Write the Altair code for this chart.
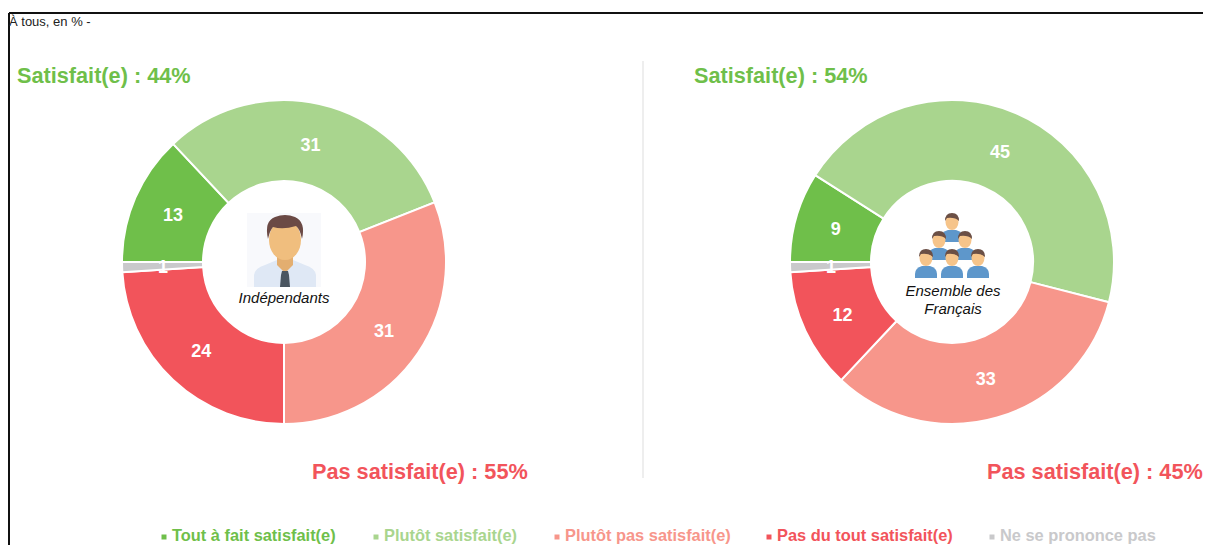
import base64
import math
import altair as alt
import pandas as pd

# ---- data ----
categories = ["Tout à fait satisfait(e)", "Plutôt satisfait(e)", "Plutôt pas satisfait(e)",
              "Pas du tout satisfait(e)", "Ne se prononce pas"]
colors = ["#6FBF4A", "#A9D58E", "#F7968B", "#F2545B", "#C9C9CB"]
independants = [13, 31, 31, 24, 1]
francais = [9, 45, 33, 12, 1]
top_titles = ["Satisfait(e) : 44%", "Satisfait(e) : 54%"]
bottom_titles = ["Pas satisfait(e) : 55%", "Pas satisfait(e) : 45%"]
header = "À tous, en % -"

FONT = "Liberation Sans"
OX, OY = 8, 8  # page margin


def px(v):
    return alt.value(v - OX)


def py(v):
    return alt.value(v - OY)


def svg_uri(svg):
    return "data:image/svg+xml;base64," + base64.b64encode(svg.encode("utf-8")).decode("ascii")


man_svg = """<svg xmlns='http://www.w3.org/2000/svg' width='74' height='74' viewBox='0 0 74 74'>
<rect width='74' height='74' fill='#F8F9FC'/>
<path d='M7 74 V62 Q8 55 18 52 L30 47 H46 L58 52 Q68 55 69 62 V74 Z' fill='#DFE8F5'/>
<path d='M30 40 H46 V52 L38 60 L30 52 Z' fill='#E3AE70'/>
<path d='M35 58 H41 L42 62 L43 74 H33 L34 62 Z' fill='#4A5560'/>
<ellipse cx='38' cy='27' rx='16' ry='20' fill='#F0BE7E'/>
<path d='M21 26 Q17 8 28 4 Q38 0 48 4 Q59 9 55 26 Q53 16 49 13 Q36 17 26 14 Q23 17 21 26 Z' fill='#6B4A45'/>
</svg>"""


def person(cx, cy):
    return (f"<path d='M{cx-11} {cy+20} V{cy+16} Q{cx-11} {cy+10} {cx-4} {cy+8} H{cx+4} Q{cx+11} {cy+10} {cx+11} {cy+16} V{cy+20} Z' fill='#5E97CB'/>"
            f"<ellipse cx='{cx}' cy='{cy}' rx='6.5' ry='8' fill='#F6C48A'/>"
            f"<path d='M{cx-7} {cy-1} Q{cx-7} {cy-9} {cx} {cy-9} Q{cx+7} {cy-9} {cx+7} {cy-1} Q{cx+3} {cy-5} {cx-5} {cy-4} Z' fill='#6B4F45'/>")


people_svg = ("<svg xmlns='http://www.w3.org/2000/svg' width='74' height='70' viewBox='0 0 74 70'>"
              + person(37, 12) + person(24, 30) + person(50, 30)
              + person(11, 48) + person(37, 48) + person(63, 48) + "</svg>")

# ---- layout ----
panels = [
    dict(values=independants, cx=284, top_x=17, bottom_x=312),
    dict(values=francais, cx=952, top_x=694, bottom_x=987),
]
CY = 262
R_OUT, R_IN, R_LABEL = 162, 81, 121

color_scale = alt.Scale(domain=categories, range=colors)
theta_scale = alt.Scale(domain=[0, 100], range=[-math.pi / 2, 3 * math.pi / 2])

one = pd.DataFrame({"a": [0]})
layers = []


def text_layer(txt, x, y, **kw):
    return (alt.Chart(pd.DataFrame({"t": [txt]}))
            .mark_text(font=FONT, baseline="alphabetic", **kw)
            .encode(text="t:N", x=px(x), y=py(y)))


# frame & separator
layers.append(alt.Chart(one).mark_rule(color="#111111", strokeWidth=2)
              .encode(x=px(9), x2=px(1203), y=py(13)))
layers.append(alt.Chart(one).mark_rule(color="#111111", strokeWidth=2)
              .encode(x=px(9), y=py(13), y2=py(545)))
layers.append(alt.Chart(one).mark_rule(color="#DDDDDD", strokeWidth=1)
              .encode(x=px(643), y=py(61), y2=py(478)))

layers.append(text_layer(header, 9, 26, fontSize=13, align="left", color="#222222"))

for i, p in enumerate(panels):
    df = pd.DataFrame({"cat": categories, "val": p["values"], "ord": range(5)})
    base = alt.Chart(df)
    layers.append(
        base.mark_arc(innerRadius=R_IN, outerRadius=R_OUT, stroke="white", strokeWidth=2).encode(
            theta=alt.Theta("val:Q", stack=True, scale=theta_scale),
            color=alt.Color("cat:N", scale=color_scale, legend=None),
            order=alt.Order("ord:Q"),
            x=px(p["cx"]), y=py(CY),
        )
    )
    layers.append(
        base.mark_text(radius=R_LABEL, dy=2, font=FONT, fontSize=18, fontWeight="bold", color="white").encode(
            theta=alt.Theta("val:Q", stack=True, scale=theta_scale),
            text="val:Q",
            detail="cat:N",
            order=alt.Order("ord:Q"),
            x=px(p["cx"]), y=py(CY),
        )
    )
    layers.append(text_layer(top_titles[i], p["top_x"], 83, fontSize=21.7, fontWeight="bold",
                             align="left", color=colors[0]))
    layers.append(text_layer(bottom_titles[i], p["bottom_x"], 479, fontSize=21.7, fontWeight="bold",
                             align="left", color=colors[3]))

# centre pictures and captions
layers.append(alt.Chart(one).mark_image(width=74, height=74).encode(
    url=alt.value(svg_uri(man_svg)), x=px(284), y=py(250)))
layers.append(alt.Chart(one).mark_image(width=74, height=70).encode(
    url=alt.value(svg_uri(people_svg)), x=px(952), y=py(245)))
layers.append(text_layer("Indépendants", 284, 303, fontSize=15, fontStyle="italic", align="center", color="#111111"))
layers.append(text_layer("Ensemble des", 953, 296, fontSize=15, fontStyle="italic", align="center", color="#111111"))
layers.append(text_layer("Français", 953, 314, fontSize=15, fontStyle="italic", align="center", color="#111111"))

# legend row
legend_x = [172, 384, 565, 777, 1000]
for name, col, x in zip(categories, colors, legend_x):
    layers.append(text_layer(name, x, 541, fontSize=16.4, fontWeight="bold", align="left", color=col))
    layers.append(alt.Chart(one).mark_square(size=25, color=col, opacity=1).encode(x=px(x - 8), y=py(537)))

chart = alt.layer(*layers).properties(
    width=1195, height=537, padding=0,
    autosize=alt.AutoSizeParams(type="none"),
    background="white",
).configure_view(stroke=None)

chart.save("out.html", embed_options={"renderer": "svg", "actions": False})
